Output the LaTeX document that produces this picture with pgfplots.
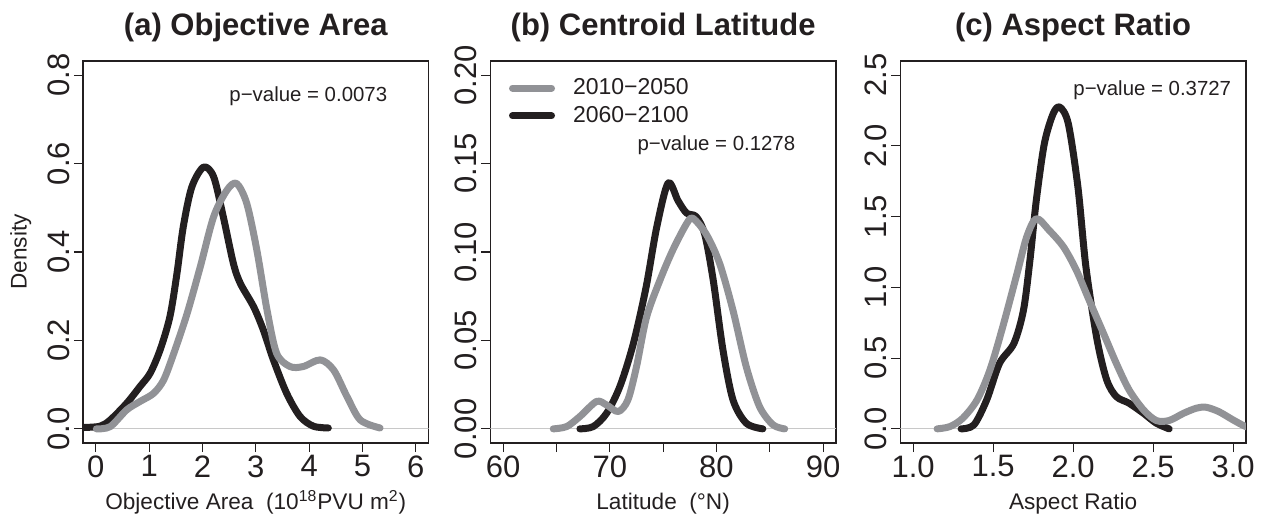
\documentclass[border=0pt]{standalone}
\usepackage{fontspec}
\setmainfont{Liberation Sans}
\usepackage{pgfplots}
\pgfplotsset{compat=1.18}
\definecolor{cgray}{RGB}{145,146,150}
\definecolor{cblack}{RGB}{35,31,32}
\definecolor{zline}{RGB}{200,200,200}
\pgfplotsset{
  panel/.style={
    scale only axis, width=172.8pt, height=191pt, anchor=south west,
    axis line style={line width=0.6pt, cblack},
    tick style={line width=0.6pt, cblack},
    tick align=outside, major tick length=4.5pt,
    xtick pos=lower, ytick pos=left,
    /pgf/number format/assume math mode=true,
    ticklabel style={font=\fontsize{15.5}{16}\selectfont, text=cblack},
    xticklabel style={anchor=north, inner sep=0pt, yshift=-1.5pt},
    yticklabel style={xshift=-2pt, rotate=90, anchor=south, inner sep=0pt},
    every axis title/.style={at={(axis description cs:0.5,1.068)}, anchor=base, font=\bfseries\fontsize{15.5}{16}\selectfont, text=cblack},
    every axis x label/.style={at={(axis description cs:0.5,-0.175)}, anchor=base, font=\fontsize{11.3}{13}\selectfont, text=cblack},
    every axis y label/.style={at={(axis description cs:-0.163,0.5)}, rotate=90, anchor=base, font=\fontsize{11.3}{13}\selectfont, text=cblack},
  },
  dens/.style={line width=3.5pt, line cap=round, line join=round, smooth, tension=0.5, no markers},
  zl/.style={zline, line width=0.6pt, forget plot},
}
\newcommand{\pv}[1]{\fontsize{10.2}{12}\selectfont p−value = #1}
\begin{document}
\begin{tikzpicture}
\useasboundingbox (0,0) rectangle (631pt,258pt);
% (a)
\begin{axis}[panel, at={(41.5pt,36.5pt)},
  xmin=-0.24, xmax=6.24, ymin=-0.032, ymax=0.832,
  xtick={0,1,2,3,4,5,6},
  ytick={0,0.2,0.4,0.6,0.8}, yticklabels={0.0,0.2,0.4,0.6,0.8},
  title={(a) Objective Area},
  xlabel={Objective Area\ \ (10\textsuperscript{18}PVU m\textsuperscript{2})},
  ylabel={Density}]
\addplot[zl] coordinates {(-1,0) (7,0)};
\addplot[dens, cblack] coordinates {(-0.4,0.002) (-0.23,0.003) (0.08,0.006) (0.27,0.02) (0.58,0.058) (0.83,0.096) (1.02,0.126) (1.21,0.18) (1.39,0.254) (1.52,0.35) (1.64,0.457) (1.80,0.547) (2.02,0.592) (2.21,0.57) (2.39,0.48) (2.58,0.374) (2.71,0.329) (2.96,0.276) (3.14,0.224) (3.33,0.156) (3.58,0.08) (3.83,0.028) (4.08,0.006) (4.36,0.002)};
\addplot[dens, cgray] coordinates {(0.01,0.0) (0.27,0.005) (0.58,0.043) (0.83,0.062) (1.08,0.08) (1.27,0.11) (1.46,0.17) (1.71,0.26) (1.96,0.367) (2.21,0.48) (2.46,0.54) (2.64,0.555) (2.83,0.51) (3.02,0.404) (3.21,0.269) (3.39,0.171) (3.64,0.141) (3.89,0.141) (4.21,0.156) (4.46,0.133) (4.71,0.073) (4.96,0.02) (5.33,0.002)};
\node[anchor=base, text=cblack] at (axis description cs:0.652,0.893) {\pv{0.0073}};
\end{axis}
% (b)
\begin{axis}[panel, at={(245.15pt,36.5pt)},
  xmin=58.8, xmax=91.2, ymin=-0.008, ymax=0.208,
  xtick={60,65,70,75,80,85,90}, xticklabels={60,,70,,80,,90},
  ytick={0,0.05,0.1,0.15,0.2}, yticklabels={0.00,0.05,0.10,0.15,0.20},
  title={(b) Centroid Latitude},
  xlabel={Latitude\ \ (°N)},
  legend style={at={(axis description cs:0.053,0.955)}, anchor=north west, draw=none, fill=none, inner sep=0pt, row sep=4.3pt, column sep=9pt, nodes={inner sep=0pt, text=cblack}, font=\fontsize{11.5}{13}\selectfont},
  legend cell align=left,
  legend image code/.code={\draw[#1] (0pt,0pt) -- (19.5pt,0pt);}]
\addlegendimage{line width=3.5pt, line cap=round, cgray}
\addlegendentry{2010−2050}
\addlegendimage{line width=3.5pt, line cap=round, cblack}
\addlegendentry{2060−2100}
\addplot[zl] coordinates {(50,0) (100,0)};
\addplot[dens, cblack, forget plot] coordinates {(67.2,0) (68.45,0.0013) (69.7,0.0088) (70.95,0.024) (72.2,0.048) (73.4,0.080) (74.4,0.114) (75.47,0.139) (76.4,0.129) (77.2,0.122) (78.1,0.120) (78.9,0.11) (79.7,0.084) (80.6,0.045) (81.55,0.0164) (82.8,0.0032) (84.35,0)};
\addplot[dens, cgray, forget plot] coordinates {(64.7,0) (65.96,0.0013) (67.2,0.007) (68.76,0.0155) (69.7,0.0135) (70.8,0.0098) (71.7,0.0164) (72.5,0.035) (73.44,0.063) (74.7,0.084) (75.9,0.101) (77.2,0.116) (77.8,0.119) (79.05,0.11) (80.3,0.0935) (81.55,0.067) (82.8,0.035) (84.04,0.0126) (85.3,0.0023) (86.4,0)};
\node[anchor=base, text=cblack] at (axis description cs:0.654,0.765) {\pv{0.1278}};
\end{axis}
% (c)
\begin{axis}[panel, at={(450.15pt,36.5pt)},
  xmin=0.92, xmax=3.08, ymin=-0.1, ymax=2.6,
  xtick={1,1.5,2,2.5,3}, xticklabels={1.0,1.5,2.0,2.5,3.0},
  ytick={0,0.5,1,1.5,2,2.5}, yticklabels={0.0,0.5,1.0,1.5,2.0,2.5},
  title={(c) Aspect Ratio},
  xlabel={Aspect Ratio}]
\addplot[zl] coordinates {(0,0) (4,0)};
\addplot[dens, cblack] coordinates {(1.30,0) (1.38,0.028) (1.46,0.205) (1.54,0.463) (1.63,0.604) (1.69,0.84) (1.73,1.19) (1.77,1.616) (1.82,2.015) (1.875,2.227) (1.917,2.274) (1.97,2.157) (2.03,1.71) (2.08,1.145) (2.15,0.628) (2.21,0.346) (2.27,0.228) (2.35,0.181) (2.44,0.11) (2.52,0.04) (2.60,0)};
\addplot[dens, cgray] coordinates {(1.15,0) (1.23,0.016) (1.31,0.075) (1.40,0.205) (1.48,0.416) (1.56,0.72) (1.65,1.10) (1.71,1.357) (1.77,1.486) (1.85,1.404) (1.94,1.286) (2.02,1.122) (2.10,0.91) (2.19,0.675) (2.27,0.463) (2.35,0.275) (2.44,0.134) (2.52,0.059) (2.60,0.059) (2.69,0.11) (2.77,0.146) (2.83,0.153) (2.91,0.122) (3.0,0.063) (3.08,0.016) (3.15,0.002)};
\node[anchor=base, text=cblack] at (axis description cs:0.729,0.911) {\pv{0.3727}};
\end{axis}
\end{tikzpicture}
\end{document}
